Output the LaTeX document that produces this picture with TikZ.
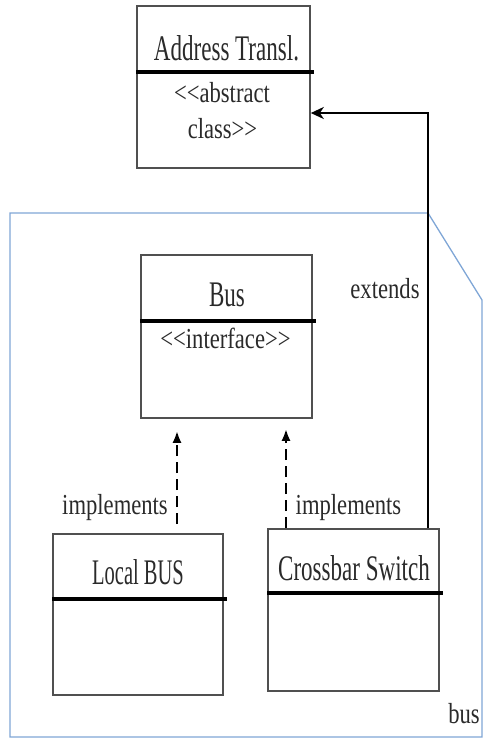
\documentclass[tikz,border=0pt]{standalone}
\usepackage{fontspec}
\usetikzlibrary{arrows.meta,calc}
\newfontfamily\namefont[FakeStretch=0.64]{Liberation Serif}
\newfontfamily\capsnamefont[FakeStretch=0.57]{Liberation Serif}
\newfontfamily\tagfont[FakeStretch=0.78]{Liberation Serif}
\definecolor{txt}{HTML}{2A2A2A}
\definecolor{boxline}{HTML}{505050}
\definecolor{pkgblue}{HTML}{7FA6D6}
\tikzset{
  classbox/.style={draw=boxline, line width=1.6pt, rectangle, inner sep=0pt},
  divider/.style={black, line width=3.2pt},
  classname/.style={anchor=base, inner sep=0pt, text=txt, font=\namefont\fontsize{36}{40}\selectfont},
  tagtext/.style={anchor=base, inner sep=0pt, text=txt, font=\tagfont\fontsize{29}{36}\selectfont},
  realize/.style={black, line width=2.8pt, dash pattern=on 11pt off 6pt, -{Latex[length=12pt,width=9pt]}},
  generalize/.style={black, line width=2.8pt, -{Stealth[length=13pt,width=12pt,inset=4pt]}},
}
\begin{document}
\begin{tikzpicture}[x=1pt,y=-1pt]
\useasboundingbox (0,0) rectangle (483,740);

% package frame "bus" with its clipped corner
\draw[pkgblue, line width=1.3pt] (10,737) -- (10,213) -- (428,213) -- (482,300) -- (482,737) -- cycle;
\node[tagtext] (pkglabel) at (464,723) {bus};

% classes
\node[classbox, minimum width=173pt, minimum height=162pt] (addr) at (223.5,87) {};
\node[classbox, minimum width=171pt, minimum height=163pt] (bus) at (226.5,336.5) {};
\node[classbox, minimum width=170pt, minimum height=161pt] (local) at (138,614.5) {};
\node[classbox, minimum width=171pt, minimum height=162pt] (cross) at (353.5,610) {};

% compartment dividers
\draw[divider] (addr.west |- 0,72) -- ($(addr.east |- 0,72)+(3,0)$);
\draw[divider] (bus.west |- 0,321) -- ($(bus.east |- 0,321)+(3,0)$);
\draw[divider] (local.west |- 0,599) -- ($(local.east |- 0,599)+(3,0)$);
\draw[divider] (cross.west |- 0,593) -- ($(cross.east |- 0,593)+(3,0)$);

% class names and stereotypes
\node[classname] (addrname) at (226.5,60) {Address Transl.};
\node[tagtext] (addrtag1) at (222,102) {<<abstract};
\node[tagtext] (addrtag2) at (222.5,138) {class>>};
\node[classname] (busname) at (227,306) {Bus};
\node[tagtext] (bustag) at (225.5,348) {<<interface>>};
\node[classname, font=\capsnamefont\fontsize{36}{40}\selectfont] (localname) at (138,584) {Local BUS};
\node[classname] (crossname) at (354,580) {Crossbar Switch};

% relations
\coordinate (bend) at (428,113);
\draw[generalize] (cross.north -| bend) -- (bend) -- (addr.east |- bend);
\draw[realize, shorten <=9pt, shorten >=12pt] (local.north -| 177,0) -- (bus.south -| 177,0);
\draw[realize, shorten >=10pt] (cross.north -| 286,0) -- (bus.south -| 286,0);

% relation labels
\node[tagtext] (extlabel) at (385,298) {extends};
\node[tagtext] (impl1) at (115,514) {implements};
\node[tagtext] (impl2) at (348.5,514) {implements};
\end{tikzpicture}
\end{document}
